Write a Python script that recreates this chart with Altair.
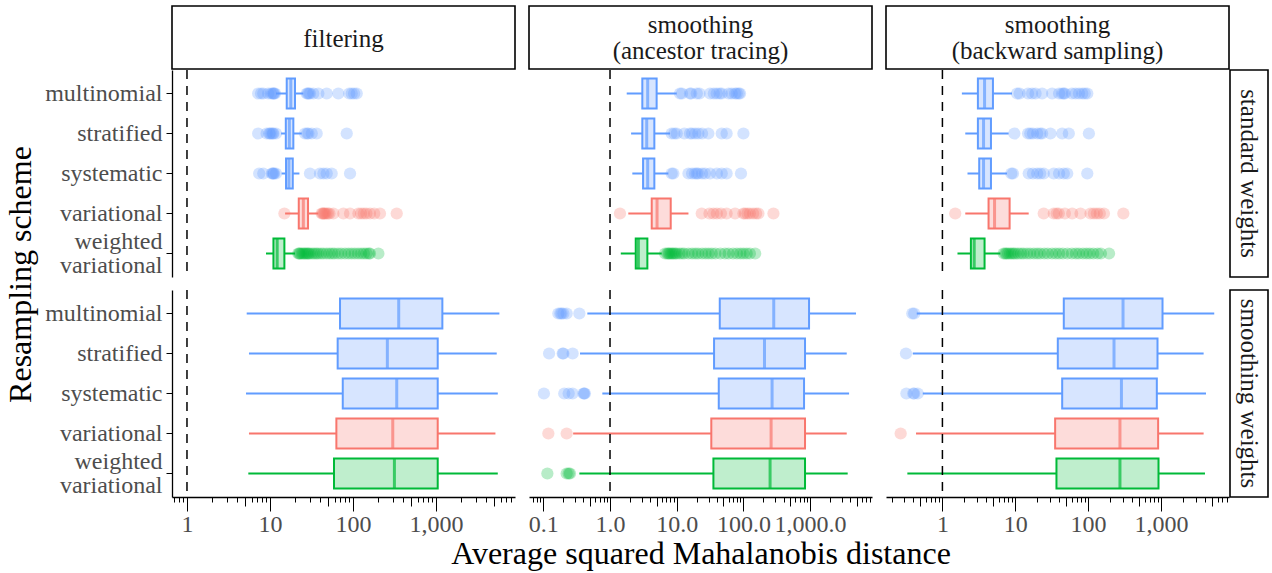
import altair as alt
import pandas as pd

FONT = "'Liberation Serif', 'DejaVu Serif', serif"
SCHEMES = ["multinomial", "stratified", "systematic", "variational", "weighted variational"]
TASKS = ["filtering", "smoothing\n(ancestor tracing)", "smoothing\n(backward sampling)"]
WEIGHTS = ["standard weights", "smoothing weights"]
LINE = ["#619CFF", "#619CFF", "#619CFF", "#F8766D", "#00BA38"]
FILL = ["#d7e5ff", "#d7e5ff", "#d7e5ff", "#fddcda", "#bfeecd"]

X_DOMAINS = [[0.66, 8930], [0.061, 8470], [0.168, 8610]]
X_FORMATS = [",", ",.1f", ","]
X_TITLE = "Average squared Mahalanobis distance"
Y_TITLE = "Resampling scheme"

# box stats per scheme: [lower whisker, q1, median, q3, upper whisker]
FILT_STD_BOX = [[11.8, 15.9, 17.8, 20.0, 25.2], [13.6, 15.5, 17.1, 19.1, 24.1],
                [13.8, 15.6, 16.9, 18.8, 22.6], [15.2, 22.2, 25.2, 28.7, 38.2],
                [8.95, 11.0, 12.2, 14.9, 20.0]]
FILT_SMO_BOX = [[5.24, 69.7, 355, 1191, 5790], [5.58, 65.3, 259, 1047, 5380],
                [5.14, 75.2, 336, 1047, 5540], [5.58, 63, 301, 1047, 5190],
                [5.48, 59, 315, 1047, 5540]]
ANC_STD_BOX = [[1.78, 3.05, 3.67, 5.0, 10], [2.07, 3.05, 3.55, 4.62, 7.94],
               [2.16, 3.13, 3.67, 4.62, 7.5], [1.88, 4.22, 5.07, 8.13, 15],
               [1.45, 2.43, 2.66, 3.63, 5.96]]
ANC_SMO_BOX = [[0.457, 44.2, 285, 964, 4880], [0.355, 36.3, 207, 839, 3540],
               [0.767, 42.7, 269, 811, 3840], [0.28, 33, 260, 839, 3540],
               [0.347, 35.5, 251, 839, 3660]]
BWD_STD_BOX = [[1.85, 3.07, 3.79, 4.94, 9.03], [2.06, 3.07, 3.67, 4.64, 8.11],
               [2.21, 3.2, 3.67, 4.64, 7.7], [2.06, 4.3, 5.2, 8.37, 15.3],
               [1.61, 2.46, 2.73, 3.79, 6.24]]
BWD_SMO_BOX = [[0.444, 46.4, 302, 1052, 5400], [0.391, 38.4, 227, 898, 3860],
               [0.537, 44.1, 287, 879, 4160], [0.434, 35.3, 274, 916, 3860],
               [0.33, 36.8, 274, 927, 4030]]

# outliers per scheme
FILT_STD_OUT = [
    [7.2, 7.8, 8.3, 9.5, 10.3, 10.8, 11.0, 11.2, 11.5, 27.7, 28.5, 29.3, 30.3, 33.2, 38.2, 48.2, 66.5, 90, 96.4, 103, 110.8],
    [7.2, 9.1, 9.8, 10.0, 10.4, 10.8, 11.0, 11.8, 26.4, 28, 29.0, 31.8, 36.5, 84],
    [7.4, 8.3, 10.5, 10.8, 11.0, 11.2, 11.8, 30.3, 40, 44, 48.2, 55.3, 92],
    [14.9, 41.9, 43, 44, 45, 46, 48, 50, 52, 58, 76.5, 92, 116, 125, 135, 145, 160, 180, 211, 336],
    [21.9, 22.5, 23, 24, 25, 26, 27, 28, 29, 30, 32, 34, 36, 38, 41, 44, 48, 52, 56, 60, 66, 72, 80,
     88, 96, 105, 115, 125, 135, 145, 155, 160, 202]]
FILT_SMO_OUT = [[], [], [], [], []]
ANC_STD_OUT = [
    [11.2, 12, 15.8, 16.5, 20, 22, 31.6, 36, 39.8, 44, 47.3, 60, 66.8, 75, 79.4, 85, 89],
    [8.4, 9.2, 10, 13, 15.8, 17, 19, 21.1, 24, 29.8, 47.3, 56, 100],
    [8.4, 8.9, 15, 17, 18.8, 20, 21.1, 24, 26.6, 31.6, 40, 47.3, 56, 92],
    [1.41, 23.7, 31, 35.5, 40, 46, 56, 75, 100, 106, 115, 125, 140, 155, 168, 282],
    [6.7, 7.2, 7.5, 7.8, 8.2, 8.6, 9, 9.5, 10, 11, 12, 13, 15, 17, 19, 21, 24, 27, 30, 33.5, 38, 45,
     53, 60, 70, 80, 90, 100, 112, 125, 150]]
ANC_SMO_OUT = [[0.168, 0.18, 0.188, 0.2, 0.224, 0.347], [0.122, 0.195, 0.2, 0.275],
               [0.102, 0.206, 0.24, 0.275, 0.4, 0.41, 0.42], [0.119, 0.224],
               [0.115, 0.224, 0.24, 0.251]]
BWD_STD_OUT = [
    [10.6, 11.5, 15, 17, 19, 23.4, 32.1, 40, 44, 46.4, 48, 60, 67.3, 75, 83.2, 90, 97.5],
    [9.72, 15, 16.1, 17.5, 20, 22, 23.4, 30.4, 44.1, 54.4, 102.6],
    [8.83, 9.3, 15.3, 17.5, 20, 22, 24.6, 33.8, 40, 46.4, 51.7, 97.5],
    [1.5, 24.6, 33.8, 37, 39.6, 48, 60.5, 78.8, 108, 120, 132, 145, 165, 305],
    [6.93, 7.3, 7.6, 8, 8.5, 9, 9.5, 10, 11, 12, 13, 14.5, 16, 18, 20, 22, 25, 28, 32, 36, 40, 45,
     52, 60, 68, 75, 85, 95, 105, 118, 135, 150, 194]]
BWD_SMO_OUT = [[0.386, 0.41], [0.316], [0.32, 0.398, 0.41, 0.458], [0.267], []]

BOXES = [[FILT_STD_BOX, FILT_SMO_BOX], [ANC_STD_BOX, ANC_SMO_BOX], [BWD_STD_BOX, BWD_SMO_BOX]]
OUTS = [[FILT_STD_OUT, FILT_SMO_OUT], [ANC_STD_OUT, ANC_SMO_OUT], [BWD_STD_OUT, BWD_SMO_OUT]]

PW, PH = 343, 207
HH = 51
RW = 25

MAJOR = "abs(log(datum.value)/LN10 - round(log(datum.value)/LN10)) < 0.001"
FIVE = "abs(log(datum.value/5)/LN10 - round(log(datum.value/5)/LN10)) < 0.001"


def tick_values(lo, hi):
    vals = []
    for e in range(-2, 5):
        for k in range(1, 10):
            v = round(k * 10.0 ** e, 6)
            if lo <= v <= hi:
                vals.append(v)
    return vals


def panel(c, r):
    bdf = pd.DataFrame(BOXES[c][r], columns=["lo", "q1", "med", "q3", "hi"])
    bdf["scheme"] = SCHEMES
    bdf["line"] = LINE
    bdf["fill"] = FILL
    rows = []
    for s, ln, vals in zip(SCHEMES, LINE, OUTS[c][r]):
        for v in vals:
            rows.append({"scheme": s, "value": v, "line": ln})
    odf = pd.DataFrame(rows, columns=["scheme", "value", "line"])

    xs = alt.Scale(type="log", domain=X_DOMAINS[c], nice=False, zero=False)
    ys = alt.Scale(domain=SCHEMES, paddingInner=0, paddingOuter=0.0875)
    xtitle = X_TITLE if (r == 1 and c == 1) else None

    if r == 1:
        xa = alt.Axis(
            values=tick_values(*X_DOMAINS[c]),
            labelExpr=f"({MAJOR}) ? format(datum.value, '{X_FORMATS[c]}') : ''",
            tickSize={"condition": [{"test": MAJOR, "value": 14}, {"test": FIVE, "value": 9}], "value": 5},
            tickColor="black", tickWidth=1, domainColor="black", domainWidth=1.3,
            labelFont=FONT, labelFontSize=24, labelColor="#4d4d4d", labelPadding=1,
            labelOverlap=False, labelFlush=False, labelBound=False, grid=False,
            titleFont=FONT, titleFontSize=32, titleFontWeight="normal", titleColor="black",
            titleY=66, titleBaseline="alphabetic",
        )
    else:
        xa = None

    if c == 0:
        ya = alt.Axis(
            labelExpr="datum.value == 'weighted variational' ? ['weighted', 'variational'] : datum.label",
            labelOffset={"condition": {"test": "datum.value == 'weighted variational'", "value": -12}, "value": 0},
            labelFont=FONT, labelFontSize=24, labelColor="#4d4d4d", labelLineHeight=24,
            labelPadding=4, tickColor="black", tickSize=6, tickWidth=1,
            domainColor="black", domainWidth=1.3, grid=False,
            titleFont=FONT, titleFontSize=32, titleFontWeight="normal", titleColor="black",
            titleX=-142, titleY=204, titleBaseline="alphabetic", titleAngle=270,
        )
    else:
        ya = None
    ytitle = Y_TITLE if (c == 0 and r == 0) else None

    def X(field):
        return alt.X(field, type="quantitative", scale=xs, axis=xa, title=xtitle)

    def Y():
        return alt.Y("scheme:N", scale=ys, axis=ya, title=ytitle, sort=SCHEMES)

    whisk = alt.Chart(bdf).mark_rule(strokeWidth=2).encode(
        x=X("lo"), x2="hi", y=Y(), color=alt.Color("line:N", scale=None))
    box = alt.Chart(bdf).mark_bar(size=30, strokeWidth=2).encode(
        x=X("q1"), x2="q3", y=Y(), fill=alt.Fill("fill:N", scale=None),
        stroke=alt.Stroke("line:N", scale=None))
    med = alt.Chart(bdf).mark_tick(orient="vertical", size=30, thickness=3).encode(
        x=X("med"), y=Y(), color=alt.Color("line:N", scale=None))
    layers = [whisk, box, med]
    if len(odf):
        pts = alt.Chart(odf).mark_circle(size=150, opacity=0.28).encode(
            x=X("value"), y=Y(), color=alt.Color("line:N", scale=None))
        layers.append(pts)
    ref = alt.Chart(pd.DataFrame({"v": [1.0]})).mark_rule(
        color="black", strokeDash=[9, 7], strokeWidth=1.5).encode(x=X("v"))
    layers.append(ref)
    return alt.layer(*layers).properties(width=PW, height=PH)


def header(c):
    df = pd.DataFrame({"t": [TASKS[c]]})
    ty = 19 if "\n" in TASKS[c] else 33
    frame = alt.Chart(df).mark_rect(fill="white", stroke="black", strokeWidth=1.6).encode(
        x=alt.value(0), x2=alt.value(PW), y=alt.value(0), y2=alt.value(63))
    txt = alt.Chart(df).mark_text(font=FONT, fontSize=25, lineBreak="\n", lineHeight=26,
                                  color="#1a1a1a").encode(
        text="t:N", x=alt.value(PW / 2), y=alt.value(ty))
    return alt.layer(frame, txt).properties(width=PW, height=HH)


def row_header(r):
    df = pd.DataFrame({"t": [WEIGHTS[r]]})
    frame = alt.Chart(df).mark_rect(fill="white", stroke="black", strokeWidth=1.6).encode(
        x=alt.value(-13), x2=alt.value(RW), y=alt.value(0), y2=alt.value(PH))
    txt = alt.Chart(df).mark_text(font=FONT, fontSize=25, angle=90, color="#1a1a1a").encode(
        text="t:N", x=alt.value(6), y=alt.value(PH / 2))
    return alt.layer(frame, txt).properties(width=RW, height=PH)


blank = alt.Chart(pd.DataFrame({"t": [""]})).mark_text().encode(
    text="t:N", x=alt.value(0), y=alt.value(0)).properties(width=RW, height=HH)

cells = [header(0), header(1), header(2), blank,
         panel(0, 0), panel(1, 0), panel(2, 0), row_header(0),
         panel(0, 1), panel(1, 1), panel(2, 1), row_header(1)]

chart = alt.concat(*cells, columns=4, spacing={"row": 13, "column": 14}, bounds="flush").properties(
    autosize=alt.AutoSizeParams(type="none"),
    padding={"left": 172, "top": 6, "right": 1100, "bottom": 567},
    background="white",
).configure_view(stroke=None)

chart.save("out.html", embed_options={"renderer": "svg", "actions": False})
